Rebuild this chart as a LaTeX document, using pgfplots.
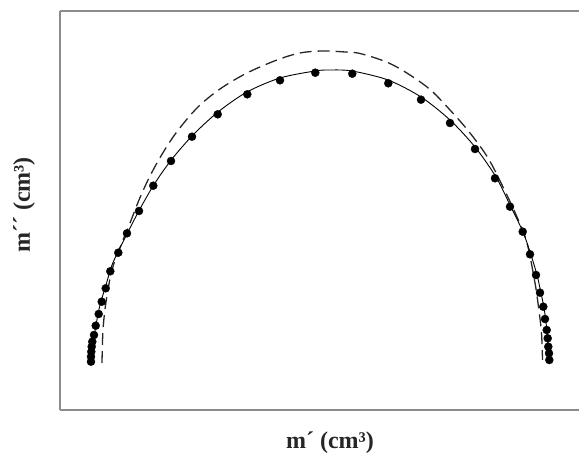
\documentclass[border=0pt]{standalone}
\usepackage{pgfplots}
\pgfplotsset{compat=1.18}
\usepackage{fontspec}
\setmainfont{Liberation Serif}
\begin{document}
\begin{tikzpicture}
\begin{axis}[
  at={(0pt,0pt)}, anchor=south west,
  scale only axis, width=519pt, height=399pt,
  xmin=0, xmax=519, ymin=0, ymax=399,
  axis x line*=box, axis y line*=left,
  axis line style={draw=black!45, line width=1.6pt},
  xtick=\empty, ytick=\empty,
  clip=false,
]
\addplot[black!85, line width=1.3pt, dash pattern=on 12pt off 6pt, smooth, tension=0.55] coordinates {
(42,47) (43,80) (46,108) (52,140) (61,165) (70,187) (79,210) (89,232) (101,254) (116,277) (137,302) (160,321) (187,337) (217,350) (240,357) (262,359) (285,358) (302,356) (333,345) (367,323) (390,300) (410,277) (428,252) (443,223) (457,193) (467,167) (475,127) (478.5,103) (481.5,77) (482.5,50)
};
\addplot[black, line width=0.9pt, smooth, tension=0.5] coordinates {
(32,48) (33,65) (36,85) (40,105) (46,125) (52,145) (60,162) (70,182) (81,203) (95,227) (112,251) (133,275) (158,298) (187,318) (220,332) (255,339) (270,340) (292,339) (328,330) (361,313) (390,290) (415,263) (436,233) (450,205) (463,178) (471,155) (477,135) (481,117) (484,102) (486,88) (487.5,72) (488.5,60) (489,48)
};
\addplot[only marks, mark=*, mark size=4pt, black] coordinates {
(31,48.3) (31,53.3) (31.3,58.3) (31.7,63.3) (32.3,68.3) (34,75) (35.7,84.3) (38.7,96) (41.7,108.3) (45.7,121.7) (50.3,138.7) (58.3,157.3) (67,176.7) (79,199) (93.3,224.3) (111,249) (132,273.3) (157.7,295.7) (187.3,315.7) (220,329.7) (255.3,337.3) (292.3,336.3) (328.3,326.7) (361,310.3) (390,287) (415,261) (435,231.7) (450,203.3) (462.7,178.3) (470,155.7) (476,135) (480,117.3) (483.3,103.3) (485,91) (486.7,80) (487.7,71.7) (488.3,63.3) (489,56.7) (489.3,50)
};
\end{axis}
\node[rotate=90, font=\fontsize{24}{26}\selectfont\bfseries, text=black!85] at (-36pt,205pt) {m´´ (cm³)};
\node[font=\fontsize{24}{26}\selectfont\bfseries, text=black!85] at (270pt,-33pt) {m´ (cm³)};
\pgfresetboundingbox
\useasboundingbox (-60pt,-47pt) rectangle (519pt,410pt);
\end{tikzpicture}
\end{document}
